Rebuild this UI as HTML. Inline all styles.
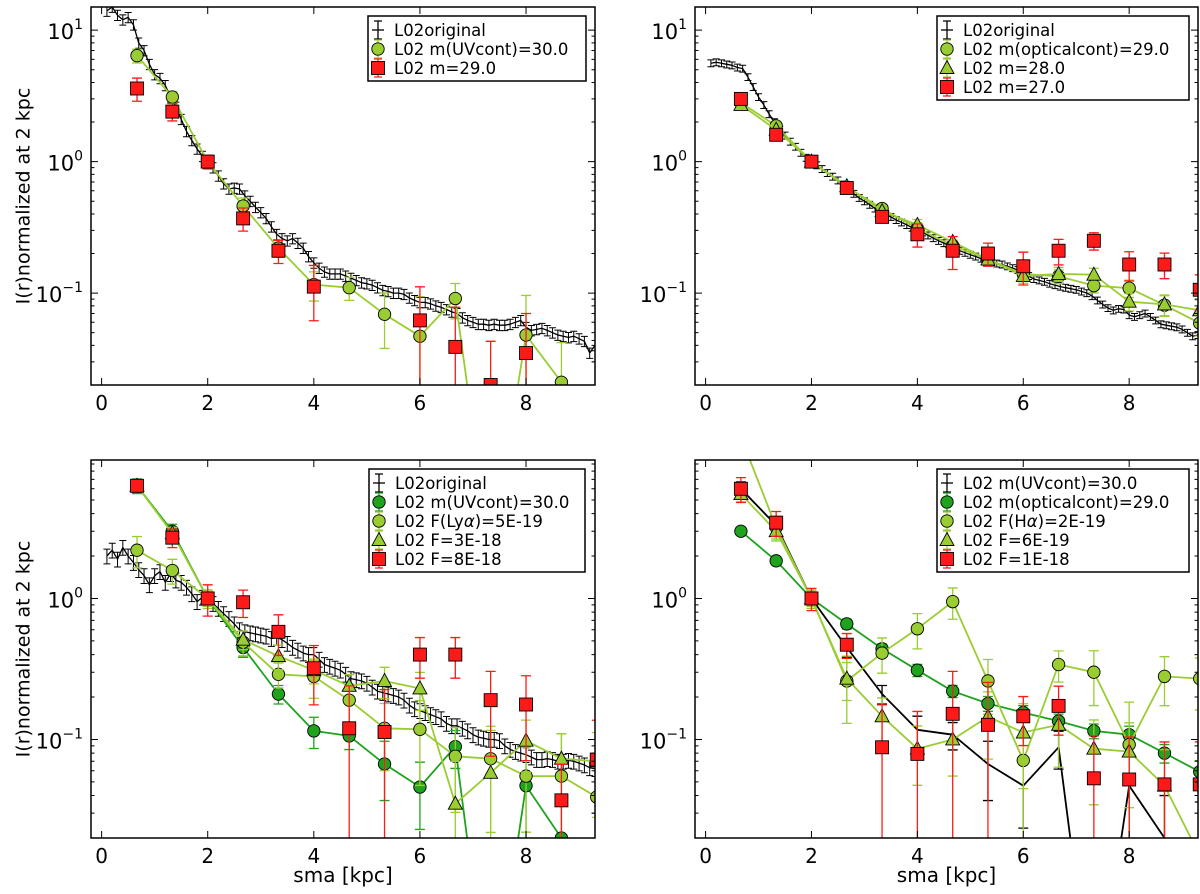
<!DOCTYPE html>
<html><head><meta charset="utf-8">
<style>
html,body{margin:0;padding:0;background:#fff;overflow:hidden;width:1200px;height:894px;}
svg{display:block;font-family:"DejaVu Sans","Liberation Sans",sans-serif;}
</style></head>
<body>
<svg id="fig" width="1200" height="894" viewBox="0 0 1200 894" xmlns="http://www.w3.org/2000/svg"></svg>
<script>
// ---------- data ----------
const X14 = [0.667,1.333,2.0,2.667,3.333,4.0,4.667,5.333,6.0,6.667,7.333,8.0,8.667,9.333];

// Top-left
const TL_ORIG = [14,15,13,12,12.5,11,8,7,5.5,4.6,4.3,3.8,3.1,2.6,2.1,1.7,1.45,1.25,1.1,1.0,0.9,0.78,0.68,0.62,0.63,0.62,0.55,0.5,0.45,0.41,0.37,0.32,0.28,0.26,0.25,0.26,0.24,0.22,0.19,0.17,0.155,0.145,0.14,0.14,0.14,0.135,0.13,0.125,0.12,0.118,0.115,0.11,0.105,0.103,0.1,0.1,0.098,0.092,0.088,0.085,0.085,0.083,0.08,0.078,0.075,0.072,0.07,0.065,0.062,0.06,0.058,0.058,0.057,0.058,0.057,0.057,0.058,0.06,0.062,0.055,0.052,0.053,0.054,0.052,0.05,0.048,0.047,0.046,0.047,0.045,0.043,0.035,0.04];
const TL_UV = [6.4,3.1,1.0,0.46,0.22,0.116,0.11,0.069,0.047,0.091,0.001,0.048,0.021,0.015];
const TL_UV_ERR = [0.12,0.1,0.1,0.15,0.15,0.25,0.2,0.45,1.0,0.3,1,1,1,1];
const TL_M29 = [3.6,2.4,1.0,0.37,0.21,0.112,0.001,0.001,0.062,0.039,0.02,0.035,0.001,0.001];
const TL_M29_ERR = [0.2,0.15,0.12,0.2,0.2,0.45,1,1,0.8,1.0,1.15,1.0,1,1];

// Top-right
const TR_ORIG = [5.6,5.7,5.6,5.5,5.4,5.2,5.1,4.4,3.7,3.1,2.7,2.3,2.0,1.75,1.58,1.42,1.3,1.17,1.07,1.0,0.94,0.88,0.82,0.77,0.72,0.67,0.62,0.57,0.53,0.5,0.47,0.44,0.42,0.4,0.38,0.36,0.345,0.33,0.315,0.3,0.29,0.275,0.262,0.25,0.24,0.23,0.22,0.21,0.203,0.196,0.19,0.183,0.178,0.172,0.168,0.165,0.16,0.155,0.15,0.145,0.135,0.128,0.125,0.122,0.118,0.115,0.112,0.11,0.108,0.106,0.103,0.1,0.095,0.088,0.082,0.077,0.074,0.076,0.075,0.068,0.066,0.068,0.07,0.066,0.062,0.058,0.057,0.056,0.055,0.053,0.05,0.047,0.048];
const TR_OPT = [2.8,1.87,1.0,0.64,0.44,0.31,0.23,0.18,0.14,0.134,0.114,0.109,0.081,0.059];
const TR_M28 = [2.7,1.75,1.0,0.65,0.42,0.33,0.245,0.18,0.135,0.14,0.138,0.086,0.082,0.074];
const TR_M27 = [3.0,1.6,1.0,0.63,0.38,0.28,0.21,0.2,0.16,0.21,0.25,0.165,0.165,0.106];
const TR_SMALL_ERR = [0.06,0.06,0.06,0.07,0.08,0.1,0.1,0.1,0.12,0.12,0.12,0.15,0.18,0.2];
const TR_M27_ERR = [0.1,0.08,0.08,0.1,0.1,0.2,0.28,0.2,0.28,0.22,0.15,0.25,0.22,0.3];

// Bottom-left
const BL_ORIG = [2.0,2.2,1.9,2.3,2.0,1.8,1.6,1.45,1.25,1.45,1.55,1.3,1.5,1.35,1.3,1.2,1.08,0.95,1.02,1.0,0.92,0.85,0.78,0.72,0.66,0.6,0.58,0.57,0.56,0.55,0.54,0.52,0.53,0.51,0.48,0.45,0.43,0.41,0.40,0.40,0.37,0.34,0.33,0.32,0.31,0.29,0.27,0.265,0.26,0.25,0.235,0.22,0.215,0.21,0.205,0.2,0.19,0.175,0.165,0.16,0.155,0.15,0.145,0.14,0.13,0.125,0.125,0.12,0.115,0.108,0.104,0.102,0.1,0.1,0.098,0.09,0.085,0.082,0.08,0.078,0.075,0.072,0.072,0.073,0.072,0.07,0.07,0.071,0.07,0.068,0.066,0.063,0.062];
const BL_UV = [6.3,3.0,1.0,0.45,0.21,0.115,0.106,0.067,0.046,0.089,0.001,0.047,0.02,0.015];
const BL_UV_ERR = [0.12,0.12,0.12,0.15,0.15,0.25,0.2,0.45,0.5,0.3,1,1,1,1];
const BL_LYA = [2.2,1.58,1.0,0.49,0.29,0.28,0.19,0.12,0.118,0.076,0.073,0.055,0.055,0.039];
const BL_LYA_ERR = [0.25,0.2,0.15,0.2,0.2,0.3,0.3,0.5,0.6,0.6,0.7,0.6,1.0,1.0];
const BL_F3 = [6.3,2.9,1.0,0.51,0.39,0.31,0.24,0.26,0.23,0.035,0.058,0.098,0.073,0.07];
const BL_F3_ERR = [0.1,0.1,0.12,0.15,0.2,0.2,0.2,0.25,0.3,1.0,1.0,0.4,0.5,0.6];
const BL_F8 = [6.3,2.7,1.0,0.94,0.58,0.32,0.12,0.113,0.40,0.40,0.19,0.177,0.037,0.072];
const BL_F8_ERR = [0.1,0.15,0.25,0.22,0.32,0.45,1.0,1.0,0.32,0.32,0.6,0.6,0.8,0.9];

// Bottom-right
const BR_UV = [6.0,3.3,1.0,0.45,0.21,0.117,0.108,0.067,0.047,0.088,0.001,0.047,0.02,0.018];
const BR_UV_ERR = [0.12,0.12,0.12,0.15,0.15,0.25,0.22,0.45,0.5,0.3,1,1,1,1];
const BR_OPT = [3.0,1.85,1.0,0.66,0.44,0.31,0.22,0.18,0.155,0.135,0.115,0.108,0.08,0.059];
const BR_OPT_ERR = [0.06,0.06,0.06,0.08,0.08,0.1,0.1,0.12,0.12,0.12,0.12,0.15,0.15,0.2];
const BR_HA = [14,3.2,1.0,0.26,0.41,0.61,0.95,0.26,0.071,0.34,0.30,0.092,0.28,0.27];
const BR_HA_ERR = [0.2,0.2,0.15,0.5,0.28,0.28,0.25,0.42,1.0,0.25,0.42,1.0,0.38,0.4];
const BR_F6 = [5.5,3.0,1.0,0.27,0.146,0.086,0.1,0.145,0.112,0.127,0.086,0.082,0.047,0.015];
const BR_F6_ERR = [0.12,0.12,0.12,0.3,0.35,0.45,0.45,0.5,0.6,0.5,0.6,0.6,0.8,1];
const BR_F1 = [6.0,3.45,1.0,0.47,0.088,0.079,0.152,0.127,0.146,0.173,0.053,0.052,0.048,0.048];
const BR_F1_ERR = [0.2,0.2,0.18,0.2,1.0,1.0,1.0,1.0,0.38,0.38,1.0,1.0,1.0,1.0];

const ORIG_X = TL_ORIG.map((v,i)=>+(0.1*(i+1)).toFixed(1));

// ---------- drawing ----------
const NS = "http://www.w3.org/2000/svg";
const svg = document.getElementById('fig');
const LG = "#9acd32", DG = "#1fa31f", RD = "#ff1a1a";
function mk(tag, attrs, parent){
  const e = document.createElementNS(NS, tag);
  for (const k in attrs) e.setAttribute(k, attrs[k]);
  (parent||svg).appendChild(e);
  return e;
}
let clipId = 0;

// clip a polyline (pixel points) to a rectangle -> list of segments
function clipLine(pts, xa, ya, xb, yb){
  const out = [];
  for (let i = 0; i < pts.length-1; i++){
    let [x1,y1] = pts[i], [x2,y2] = pts[i+1];
    let t0 = 0, t1 = 1;
    const dx = x2-x1, dy = y2-y1;
    const p = [-dx, dx, -dy, dy], q = [x1-xa, xb-x1, y1-ya, yb-y1];
    let ok = true;
    for (let k = 0; k < 4; k++){
      if (p[k] === 0){ if (q[k] < 0){ ok = false; break; } }
      else {
        const r = q[k]/p[k];
        if (p[k] < 0){ if (r > t1){ok=false;break;} if (r > t0) t0 = r; }
        else { if (r < t0){ok=false;break;} if (r < t1) t1 = r; }
      }
    }
    if (ok) out.push([x1+t0*dx, y1+t0*dy, x1+t1*dx, y1+t1*dy]);
  }
  return out;
}

function drawPanel(cfg){
  const g = mk('g', {});
  
  
  const {x0,y0,w,h,ymin,ymax} = cfg;
  const XMIN = -0.2, XMAX = 9.3;
  const sx = v => x0 + (v - XMIN)/(XMAX - XMIN)*w;
  const ly0 = Math.log10(ymin), ly1 = Math.log10(ymax);
  const sy = v => y0 + (ly1 - Math.log10(Math.max(v,1e-6)))/(ly1-ly0)*h;
  const clampY = y => Math.min(Math.max(y, y0), y0+h);
  const id = 'clip' + (clipId++);
  const defs = mk('defs', {}, g);
  const cp = mk('clipPath', {id}, defs);
  mk('rect', {x:x0, y:y0, width:w, height:h}, cp);
  const plot = mk('g', {'clip-path':'url(#'+id+')'}, g);
  
  

  cfg.series.forEach(s => {
    const sg = mk('g', {}, plot);
    
    
    const ec = s.errColor || s.color;
    const cap = s.cap || 5;
    s.ys.forEach((v,i) => {
      const e = s.err[i];
      const px = sx(s.xs[i]);
      const hi = v*(1+e), lo = v*(1-e);
      const yhr = sy(hi), ylr = lo > 0 ? sy(lo) : y0+h+10;
      if (yhr > y0+h || ylr < y0) return;
      const yh = clampY(yhr), yl = clampY(ylr);
      let d = `M${px},${yh}V${yl}`;
      if (yhr >= y0) d += `M${px-cap},${yh}H${px+cap}`;
      if (ylr <= y0+h) d += `M${px-cap},${yl}H${px+cap}`;
      const eb = mk('path', {d, stroke:ec, 'stroke-width':s.ew||1.3, fill:'none'}, sg);
      
      
    });
    if (s.line){
      const pts = s.ys.map((v,i)=>[sx(s.xs[i]), sy(v)]);
      const segs = clipLine(pts, x0, y0, x0+w, y0+h);
      const d = segs.map(sg2 => `M${sg2[0].toFixed(1)},${sg2[1].toFixed(1)}L${sg2[2].toFixed(1)},${sg2[3].toFixed(1)}`).join('');
      const pl = mk('path', {d, fill:'none', stroke:s.lineColor||s.color, 'stroke-width':s.lw||1.8, 'stroke-linejoin':'round'}, sg);
      
      
    }
    if (s.marker){
      s.ys.forEach((v,i) => {
        const py = sy(v);
        if (py > y0+h+8 || py < y0-8) return;
        const m = drawMarker(sg, s.marker, sx(s.xs[i]), py, s.color);
        
        
      });
    }
  });

  const fr = mk('rect', {x:x0, y:y0, width:w, height:h, fill:'none', stroke:'#000', 'stroke-width':1.5}, g);
  
  

  const xt = mk('g', {}, g);
  
  
  [0,2,4,6,8].forEach(t => {
    const px = sx(t);
    mk('path', {d:`M${px},${y0+h}v-7M${px},${y0}v7`, stroke:'#000', 'stroke-width':1}, xt);
    const tx = mk('text', {x:px, y:y0+h+25, 'text-anchor':'middle', 'font-size':20, fill:'#000'}, xt);
    tx.textContent = t;
    
    
  });
  const yt = mk('g', {}, g);
  
  
  for (let d = -2; d <= 1; d++){
    for (let m = 1; m <= 9; m++){
      const v = m*Math.pow(10,d);
      if (v < ymin || v > ymax) continue;
      const py = sy(v);
      const L = m===1 ? 7 : 3.5;
      mk('path', {d:`M${x0},${py}h${L}M${x0+w},${py}h${-L}`, stroke:'#000', 'stroke-width':1}, yt);
      if (m===1){
        const tx = mk('text', {x:x0-8, y:py+9, 'text-anchor':'end', 'font-size':21, fill:'#000'}, yt);
        
        
        const t1 = mk('tspan', {}, tx); t1.textContent = '10';
        const t2 = mk('tspan', {dy:-10, 'font-size':14}, tx); t2.textContent = d < 0 ? '\u2212' + (-d) : String(d);
      }
    }
  }
  if (cfg.ylabel){
    const cy = y0 + h/2;
    const yl = mk('text', {x:24, y:cy, transform:`rotate(-90 24 ${cy})`, 'text-anchor':'middle', 'dominant-baseline':'middle', 'font-size':19, fill:'#000'}, g);
    yl.textContent = 'I(r)normalized at 2 kpc';
    
    
  }
  if (cfg.xlabel){
    const xl = mk('text', {x:x0 + w/2, y:882, 'text-anchor':'middle', 'font-size':20, fill:'#000'}, g);
    xl.textContent = 'sma [kpc]';
    
    
  }
  const L = cfg.legend;
  const lg = mk('g', {}, g);
  
  
  mk('rect', {x:L.x, y:L.y, width:L.w, height:L.rows.length*19+8, fill:'#fff', stroke:'#000', 'stroke-width':1.5}, lg);
  L.rows.forEach((r,i) => {
    const e = mk('g', {}, lg);
    
    
    const cy = L.y + 14 + i*19;
    const mx = L.x + 10;
    mk('path', {d:`M${mx},${cy-9}V${cy+9}M${mx-4},${cy-9}H${mx+4}M${mx-4},${cy+9}H${mx+4}`, stroke:r.errColor||r.color, 'stroke-width':1.3}, e);
    if (r.marker) drawMarker(e, r.marker, mx, cy, r.color);
    else mk('path', {d:`M${mx-6},${cy}H${mx+6}`, stroke:'#000','stroke-width':1.3}, e);
    const t = mk('text', {x:L.x+26, y:cy+6, 'font-size':16.5, fill:'#000'}, e);
    t.innerHTML = r.label;
  });
}

function drawMarker(parent, type, x, y, color){
  if (type === 'o') return mk('circle', {cx:x, cy:y, r:6.2, fill:color, stroke:'#000', 'stroke-width':0.9}, parent);
  if (type === 's') return mk('rect', {x:x-6.5, y:y-6.5, width:13, height:13, fill:color, stroke:'#000', 'stroke-width':0.9}, parent);
  return mk('path', {d:`M${x},${y-7.5}L${x+7},${y+5.5}L${x-7},${y+5.5}Z`, fill:color, stroke:'#000', 'stroke-width':0.9}, parent);
}

const origSeries = (vals, err) => ({name:'l02-original', xs:ORIG_X, ys:vals, err:vals.map(()=>err), color:'#000', line:true, lw:1.3, cap:3.5, ew:1});

drawPanel({name:'panel-top-left', x0:91, y0:7, w:504, h:378, ymin:0.02, ymax:15, ylabel:true,
  series:[origSeries(TL_ORIG,0.09),
    {name:'uvcont-30', xs:X14, ys:TL_UV, err:TL_UV_ERR, color:LG, marker:'o', line:true},
    {name:'m-29', xs:X14, ys:TL_M29, err:TL_M29_ERR, color:RD, marker:'s', line:false}],
  legend:{x:368, y:16, w:218, rows:[
    {label:'L02original', color:'#000'},
    {label:'L02 m(UVcont)=30.0', color:LG, marker:'o'},
    {label:'L02 m=29.0', color:RD, marker:'s'}]}});

drawPanel({name:'panel-top-right', x0:695, y0:7, w:503, h:378, ymin:0.02, ymax:15,
  series:[origSeries(TR_ORIG,0.06),
    {name:'opticalcont-29', xs:X14, ys:TR_OPT, err:TR_SMALL_ERR, color:LG, marker:'o', line:true},
    {name:'m-28', xs:X14, ys:TR_M28, err:TR_SMALL_ERR, color:LG, marker:'^', line:true},
    {name:'m-27', xs:X14, ys:TR_M27, err:TR_M27_ERR, color:RD, marker:'s', line:false}],
  legend:{x:937, y:16, w:252, rows:[
    {label:'L02original', color:'#000'},
    {label:'L02 m(opticalcont)=29.0', color:LG, marker:'o'},
    {label:'L02 m=28.0', color:LG, marker:'^'},
    {label:'L02 m=27.0', color:RD, marker:'s'}]}});

drawPanel({name:'panel-bottom-left', x0:91, y0:460, w:504, h:378, ymin:0.02, ymax:9.6, ylabel:true, xlabel:true,
  series:[origSeries(BL_ORIG,0.12),
    {name:'uvcont-30', xs:X14, ys:BL_UV, err:BL_UV_ERR, color:DG, marker:'o', line:true},
    {name:'lya-5e-19', xs:X14, ys:BL_LYA, err:BL_LYA_ERR, color:LG, marker:'o', line:true},
    {name:'f-3e-18', xs:X14, ys:BL_F3, err:BL_F3_ERR, color:LG, marker:'^', line:true},
    {name:'f-8e-18', xs:X14, ys:BL_F8, err:BL_F8_ERR, color:RD, marker:'s', line:false}],
  legend:{x:369, y:469, w:216, rows:[
    {label:'L02original', color:'#000'},
    {label:'L02 m(UVcont)=30.0', color:DG, marker:'o'},
    {label:'L02 F(Ly<tspan font-style="italic">α</tspan>)=5E-19', color:LG, marker:'o'},
    {label:'L02 F=3E-18', color:LG, marker:'^'},
    {label:'L02 F=8E-18', color:RD, marker:'s'}]}});

drawPanel({name:'panel-bottom-right', x0:695, y0:460, w:503, h:378, ymin:0.02, ymax:9.6, xlabel:true,
  series:[
    {name:'uvcont-30', xs:X14, ys:BR_UV, err:BR_UV_ERR, color:'#000', line:true, lw:1.8},
    {name:'opticalcont-29', xs:X14, ys:BR_OPT, err:BR_OPT_ERR, color:DG, marker:'o', line:true},
    {name:'ha-2e-19', xs:X14, ys:BR_HA, err:BR_HA_ERR, color:LG, marker:'o', line:true},
    {name:'f-6e-19', xs:X14, ys:BR_F6, err:BR_F6_ERR, color:LG, marker:'^', line:true},
    {name:'f-1e-18', xs:X14, ys:BR_F1, err:BR_F1_ERR, color:RD, marker:'s', line:false}],
  legend:{x:937, y:469, w:252, rows:[
    {label:'L02 m(UVcont)=30.0', color:'#000'},
    {label:'L02 m(opticalcont)=29.0', color:DG, marker:'o'},
    {label:'L02 F(H<tspan font-style="italic">α</tspan>)=2E-19', color:LG, marker:'o'},
    {label:'L02 F=6E-19', color:LG, marker:'^'},
    {label:'L02 F=1E-18', color:RD, marker:'s'}]}});
</script>
</body></html>
